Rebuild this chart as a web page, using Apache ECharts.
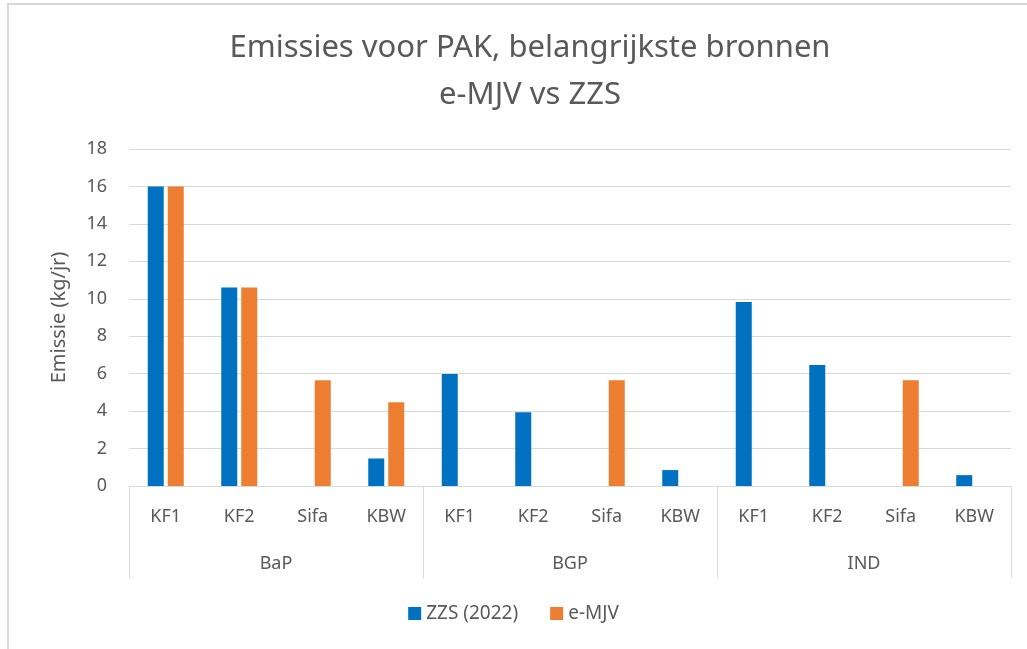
<!DOCTYPE html>
<html>
<head>
<meta charset="utf-8">
<script src="https://cdn.jsdelivr.net/npm/echarts@6/dist/echarts.min.js"></script>
<style>
html,body{margin:0;padding:0;background:#fff;}
#chart{width:1027px;height:649px;}
</style>
</head>
<body>
<div id="chart"></div>
<script>
var titleText = 'Emissies voor PAK, belangrijkste bronnen\ne-MJV vs ZZS';
var yAxisName = 'Emissie (kg/jr)';
var subCategories = ['KF1','KF2','Sifa','KBW','KF1','KF2','Sifa','KBW','KF1','KF2','Sifa','KBW'];
var groups = ['BaP','BGP','IND'];
var seriesNames = ['ZZS (2022)','e-MJV'];
var zzsValues  = [16.0, 10.6, null, 1.47, 5.98, 3.94, null, 0.85, 9.83, 6.46, null, 0.58];
var emjvValues = [16.0, 10.6, 5.65, 4.47, null, null, 5.65, null, null, null, 5.65, null];
var yTicks = {min: 0, max: 18, interval: 2};

var FONT = 'Noto Sans';
var TXT = '#595959';
var GRID = '#d9d9d9';

var chart = echarts.init(document.getElementById('chart'));
chart.setOption({
  backgroundColor: '#fff',
  animation: false,
  textStyle: {fontFamily: FONT},
  title: {
    text: titleText,
    left: 525,
    textAlign: 'center',
    top: 20,
    textStyle: {fontFamily: FONT, fontSize: 31, fontWeight: 'normal', color: TXT, lineHeight: 47}
  },
  legend: {
    data: seriesNames,
    bottom: 21,
    left: 'center',
    itemWidth: 13,
    itemHeight: 13,
    itemGap: 32,
    icon: 'rect',
    textStyle: {fontFamily: FONT, fontSize: 19, color: TXT}
  },
  grid: {left: 129, right: 16, top: 149, bottom: 163},
  xAxis: [
    {
      type: 'category',
      data: subCategories,
      position: 'bottom',
      axisLine: {show: true, lineStyle: {color: GRID, width: 1}},
      axisTick: {show: false},
      axisLabel: {fontFamily: FONT, fontSize: 18, color: TXT, margin: 22, interval: 0}
    },
    {
      type: 'category',
      data: groups,
      position: 'bottom',
      axisLine: {show: false},
      axisTick: {show: true, length: 92, lineStyle: {color: GRID, width: 1}},
      axisLabel: {fontFamily: FONT, fontSize: 18, color: TXT, margin: 69, interval: 0}
    }
  ],
  yAxis: {
    type: 'value',
    min: yTicks.min, max: yTicks.max, interval: yTicks.interval,
    name: yAxisName,
    nameLocation: 'middle',
    nameGap: 60,
    nameTextStyle: {fontFamily: FONT, fontSize: 20, color: TXT},
    axisLine: {show: false},
    axisTick: {show: false},
    splitLine: {lineStyle: {color: GRID, width: 1}},
    axisLabel: {fontFamily: FONT, fontSize: 18, color: TXT, margin: 22}
  },
  series: [
    {name: seriesNames[0], type: 'bar', xAxisIndex: 0, data: zzsValues, barWidth: 16, barGap: '25%', itemStyle: {color: '#0070C0'}},
    {name: seriesNames[1], type: 'bar', xAxisIndex: 0, data: emjvValues, barWidth: 16, barGap: '25%', itemStyle: {color: '#ED7D31'}}
  ],
  graphic: [
    {type: 'line', shape: {x1: 7, y1: 4, x2: 1027, y2: 4}, style: {stroke: '#d9d9d9', lineWidth: 2}, silent: true},
    {type: 'line', shape: {x1: 8, y1: 4, x2: 8, y2: 649}, style: {stroke: '#d9d9d9', lineWidth: 2}, silent: true}
  ]
});
</script>
</body>
</html>
